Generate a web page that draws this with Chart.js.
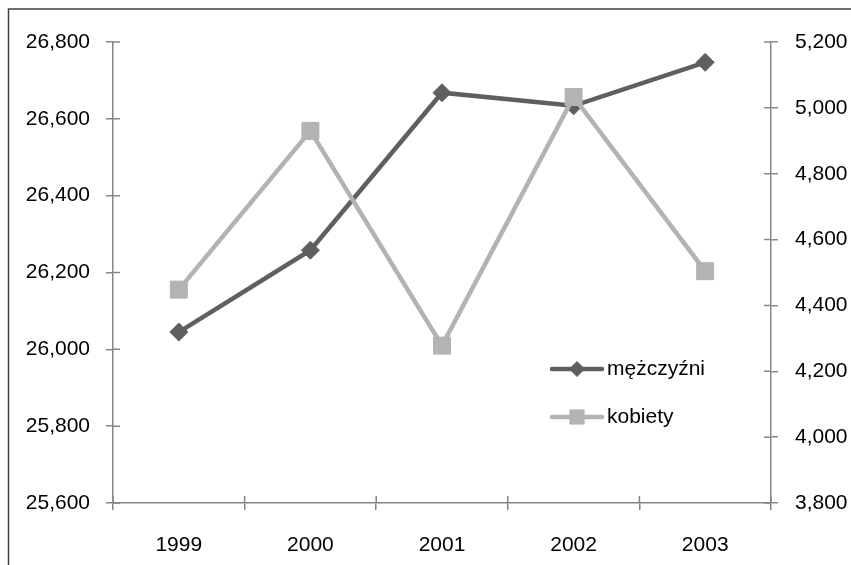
<!DOCTYPE html>
<html>
<head>
<meta charset="utf-8">
<script src="https://cdn.jsdelivr.net/npm/chart.js@4.4.1/dist/chart.umd.min.js"></script>
<style>
  html, body { margin: 0; padding: 0; background: #ffffff; }
  #wrap { width: 851px; height: 565px; }
</style>
</head>
<body>
<div id="wrap"><canvas id="c" width="851" height="565"></canvas></div>
<script>
const categories = ['1999', '2000', '2001', '2002', '2003'];
const menValues = [26045, 26258, 26668, 26634, 26747];
const womenValues = [4448, 4930, 4278, 5033, 4504];
const seriesNames = ['mężczyźni', 'kobiety'];
const leftTicks = [25600, 25800, 26000, 26200, 26400, 26600, 26800];
const rightTicks = [3800, 4000, 4200, 4400, 4600, 4800, 5000, 5200];

const FONT = '"Liberation Sans", Arial, sans-serif';
const AXIS = '#868686';
const DARK = '#5f5f5f';
const LIGHT = '#b3b3b3';

const fmt = v => Number(v).toLocaleString('en-US');

const framePlugin = {
  id: 'frame',
  beforeDraw(chart) {
    const ctx = chart.ctx;
    ctx.save();
    ctx.fillStyle = '#ffffff';
    ctx.fillRect(0, 0, chart.width, chart.height);
    ctx.strokeStyle = '#404040';
    ctx.lineWidth = 1.5;
    ctx.beginPath();
    ctx.moveTo(8.5, chart.height);
    ctx.lineTo(8.5, 9);
    ctx.lineTo(chart.width, 9);
    ctx.stroke();
    ctx.restore();
  }
};

const innerTicksPlugin = {
  id: 'innerTicks',
  beforeDatasetsDraw(chart) {
    const ctx = chart.ctx;
    const len = 7;
    ctx.save();
    ctx.strokeStyle = AXIS;
    ctx.lineWidth = 1.5;
    ctx.beginPath();
    const yl = chart.scales.y;
    yl.ticks.forEach((t, i) => {
      const y = yl.getPixelForTick(i);
      ctx.moveTo(yl.right, y); ctx.lineTo(yl.right + len, y);
    });
    const yr = chart.scales.y2;
    yr.ticks.forEach((t, i) => {
      const y = yr.getPixelForTick(i);
      ctx.moveTo(yr.left, y); ctx.lineTo(yr.left - len, y);
    });
    const xs = chart.scales.x;
    const n = xs.ticks.length;
    for (let i = 0; i <= n; i++) {
      const x = xs.left + i * (xs.width / n);
      ctx.moveTo(x, xs.top); ctx.lineTo(x, xs.top - len);
    }
    ctx.stroke();
    ctx.restore();
  }
};

const legendPlugin = {
  id: 'customLegend',
  afterDraw(chart) {
    const ctx = chart.ctx;
    const items = [chart.data.datasets[1], chart.data.datasets[0]];
    const x0 = 552, x1 = 602, tx = 607;
    const ys = [369, 417];
    ctx.save();
    items.forEach((ds, i) => {
      const y = ys[i];
      ctx.strokeStyle = ds.borderColor;
      ctx.lineWidth = 4.5;
      ctx.lineCap = 'round';
      ctx.beginPath();
      ctx.moveTo(x0, y); ctx.lineTo(x1, y);
      ctx.stroke();
      ctx.lineCap = 'butt';
      ctx.fillStyle = ds.pointBackgroundColor;
      ctx.strokeStyle = ds.pointBorderColor;
      ctx.lineWidth = 1;
      Chart.helpers.drawPoint(ctx, {
        pointStyle: ds.pointStyle,
        radius: ds.pointStyle === 'rect' ? 10 : 7.5,
        borderWidth: 1
      }, (x0 + x1) / 2, y);
      ctx.fillStyle = '#000000';
      ctx.font = '21px ' + FONT;
      ctx.textBaseline = 'middle';
      ctx.textAlign = 'left';
      ctx.fillText(ds.label, tx, y);
    });
    ctx.restore();
  }
};

new Chart(document.getElementById('c'), {
  type: 'line',
  data: {
    labels: categories,
    datasets: [
      {
        label: seriesNames[1],
        data: womenValues,
        yAxisID: 'y2',
        borderColor: LIGHT,
        backgroundColor: LIGHT,
        borderWidth: 4.5,
        pointStyle: 'rect',
        pointRadius: 12,
        pointBorderWidth: 1,
        pointBackgroundColor: LIGHT,
        pointBorderColor: LIGHT,
        tension: 0,
        order: 0
      },
      {
        label: seriesNames[0],
        data: menValues,
        yAxisID: 'y',
        borderColor: DARK,
        backgroundColor: DARK,
        borderWidth: 4.5,
        pointStyle: 'rectRot',
        pointRadius: 9,
        pointBorderWidth: 1,
        pointBackgroundColor: DARK,
        pointBorderColor: DARK,
        tension: 0,
        order: 1
      }
    ]
  },
  options: {
    responsive: false,
    devicePixelRatio: 1,
    animation: false,
    layout: { padding: { top: 42, left: 0, right: 0, bottom: 0 } },
    plugins: { legend: { display: false }, tooltip: { enabled: false } },
    scales: {
      x: {
        type: 'category',
        offset: true,
        grid: { display: true, offset: true, drawOnChartArea: false, drawTicks: true, tickLength: 7, color: AXIS, lineWidth: 1.5 },
        border: { display: true, color: AXIS, width: 1.5 },
        ticks: { color: '#000000', font: { family: FONT, size: 21 }, padding: 23, maxRotation: 0 },
        afterFit(s) { s.height = 62; }
      },
      y: {
        position: 'left',
        min: leftTicks[0],
        max: leftTicks[leftTicks.length - 1],
        afterBuildTicks(s) { s.ticks = leftTicks.map(v => ({ value: v })); },
        grid: { display: true, drawOnChartArea: false, drawTicks: true, tickLength: 7, color: AXIS, lineWidth: 1.5 },
        border: { display: true, color: AXIS, width: 1.5 },
        ticks: { color: '#000000', font: { family: FONT, size: 21 }, padding: 16, callback: fmt },
        afterFit(s) { s.width = 113; }
      },
      y2: {
        position: 'right',
        min: rightTicks[0],
        max: rightTicks[rightTicks.length - 1],
        afterBuildTicks(s) { s.ticks = rightTicks.map(v => ({ value: v })); },
        grid: { display: true, drawOnChartArea: false, drawTicks: true, tickLength: 7, color: AXIS, lineWidth: 1.5 },
        border: { display: true, color: AXIS, width: 1.5 },
        ticks: { color: '#000000', font: { family: FONT, size: 21 }, padding: 17, callback: fmt },
        afterFit(s) { s.width = 80; }
      }
    }
  },
  plugins: [framePlugin, innerTicksPlugin, legendPlugin]
});
</script>
</body>
</html>
